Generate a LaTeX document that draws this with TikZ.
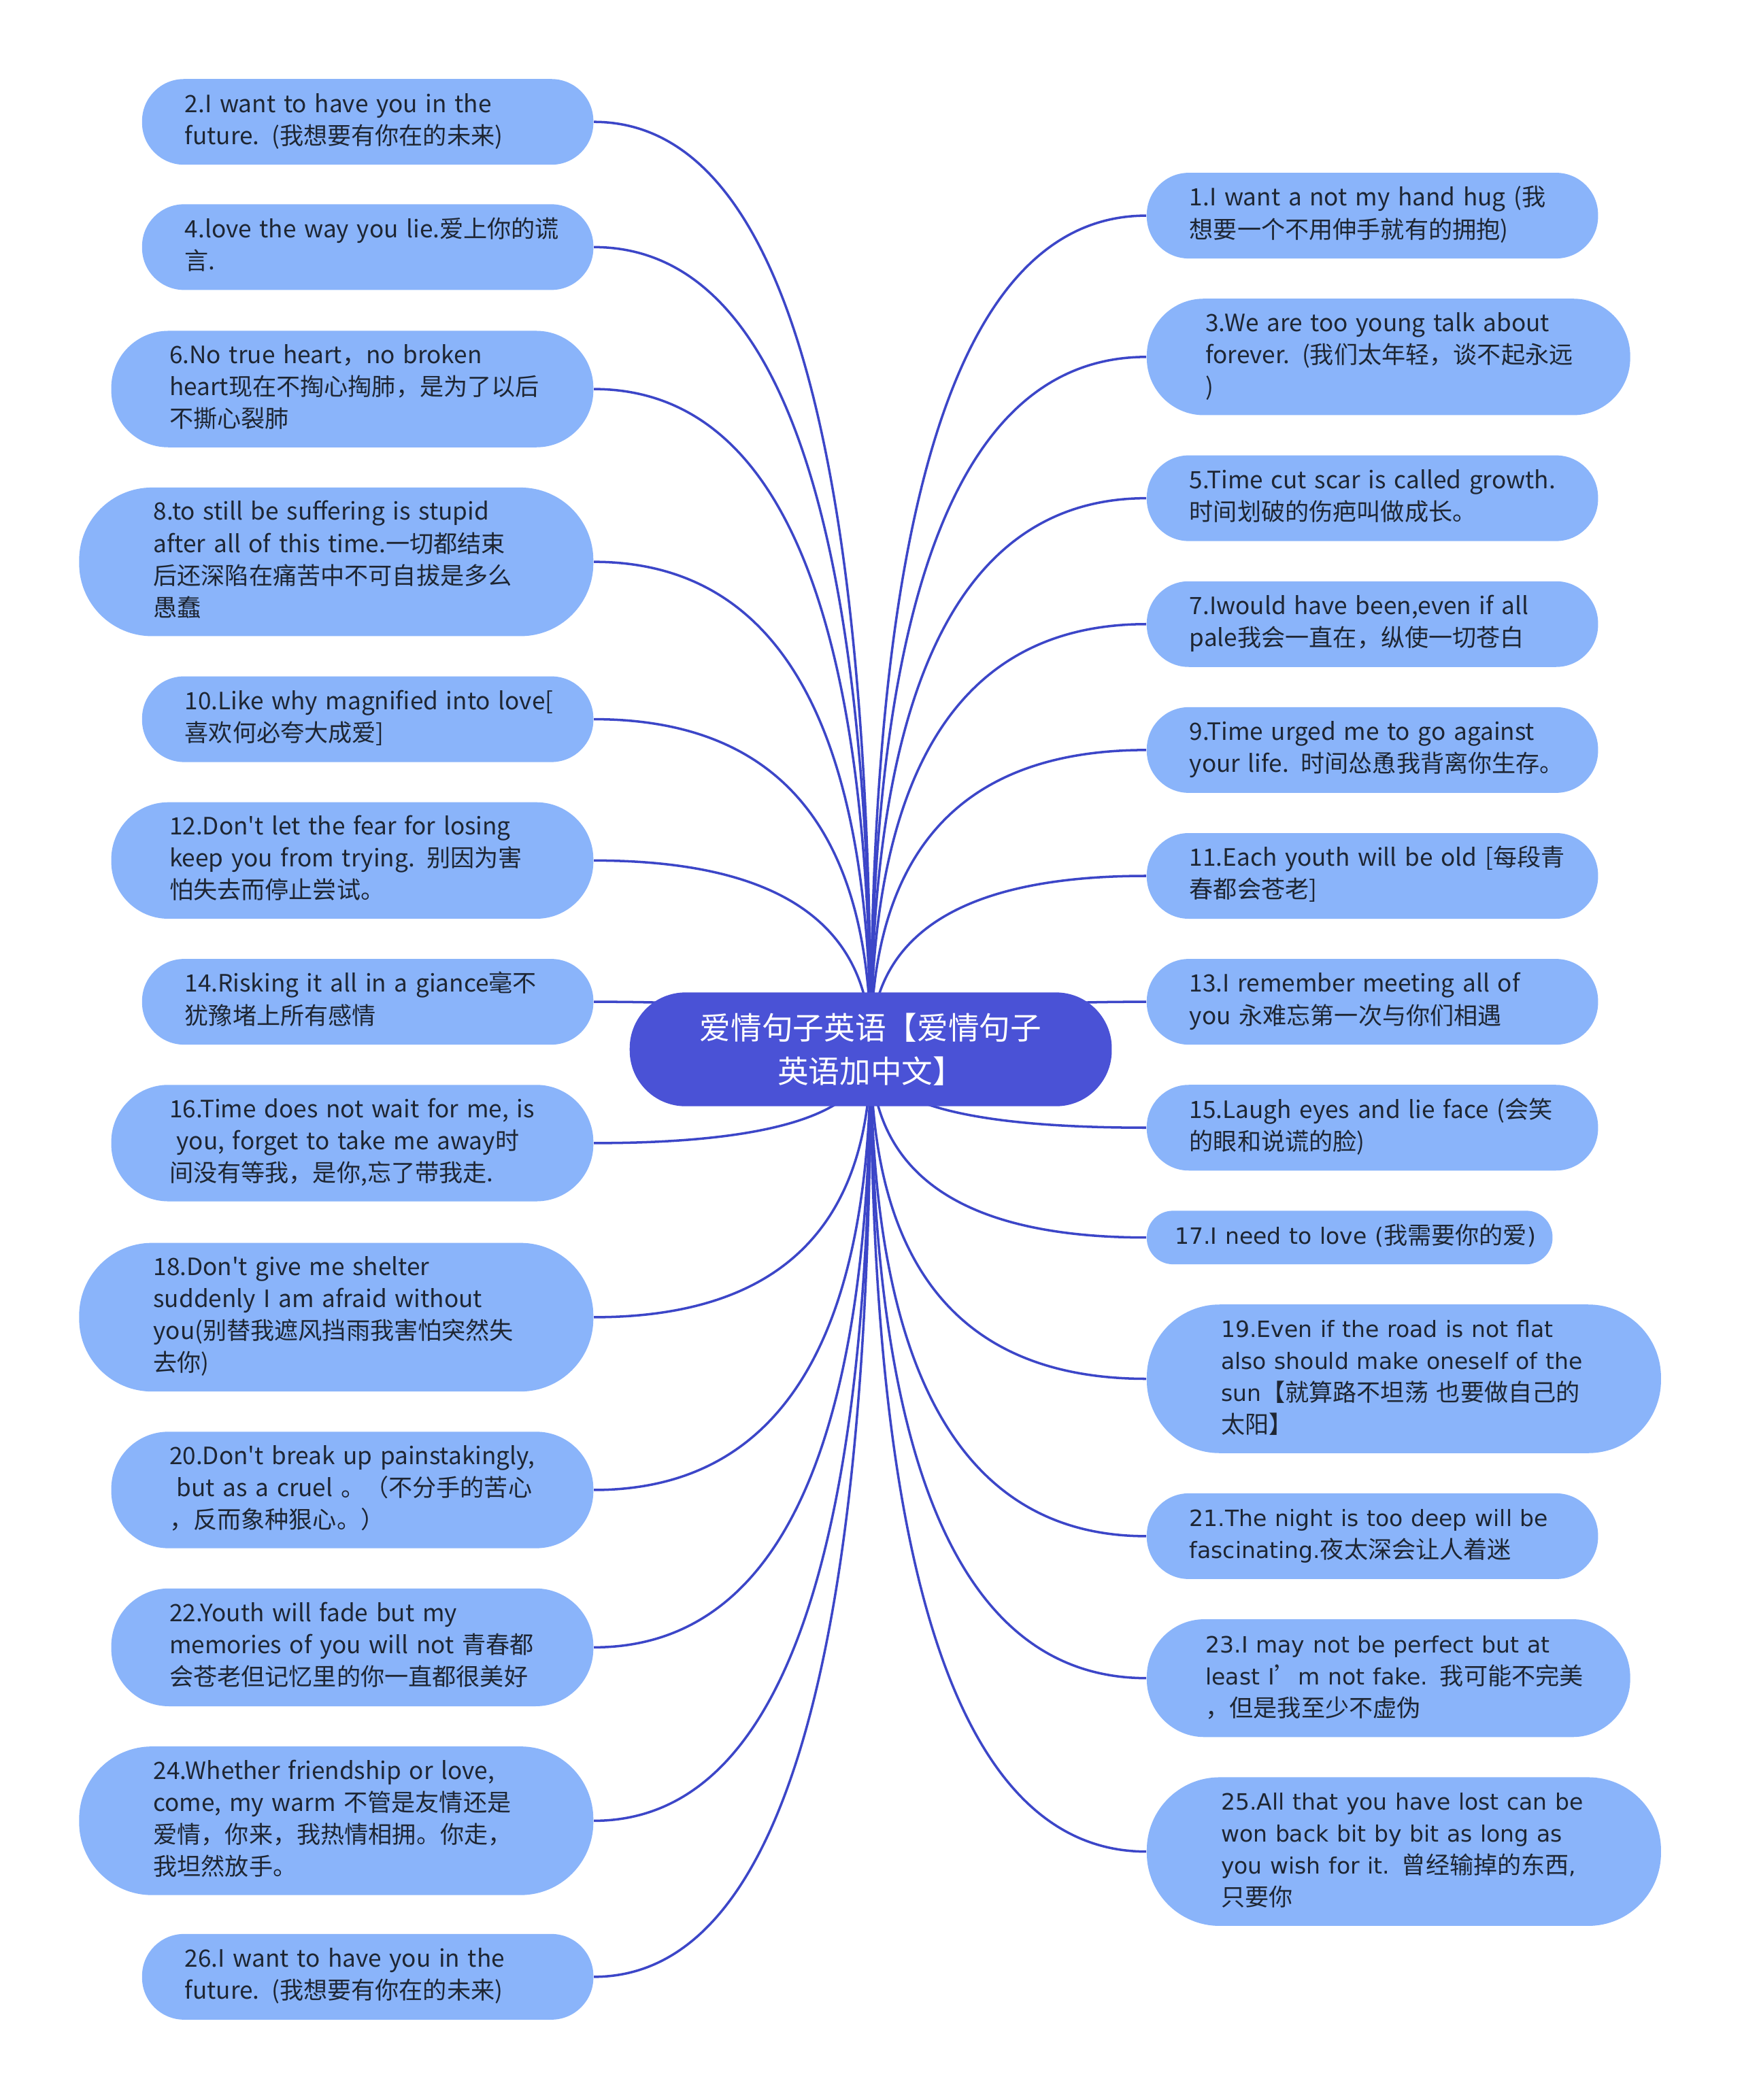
\documentclass[tikz,border=0pt]{standalone}
\usepackage{fontspec}
\newfontfamily\cjkfont{Noto Sans CJK SC}
\newfontfamily\widefont{DejaVu Sans}
\newcommand\widetxt[1]{{\widefont\fontsize{9.4}{13.4}\selectfont #1}}
\newcommand\rows[1]{\begin{tabular}{@{}l@{}}#1\end{tabular}}
\usetikzlibrary{calc}
\usetikzlibrary{backgrounds}

\definecolor{leaf}{HTML}{8AB4FA}
\definecolor{root}{HTML}{4A52D6}
\definecolor{wire}{HTML}{3C46C8}
\definecolor{ink}{HTML}{1E2633}

\begin{document}
\begin{tikzpicture}[x=0.0196923cm, y=-0.0196923cm,
		bubble/.style 2 args={fill=leaf, text=ink, align=left, inner sep=2pt,
			text width=153pt,
			minimum width=#1*0.5603pt, minimum height=#2*0.5603pt,
			rounded corners=#2*0.2745pt, font=\cjkfont\fontsize{10}{13.4}\selectfont},
		link/.style={draw=wire, line width=1pt}]
		\useasboundingbox (0,0) rectangle (1300,1568);
		%% The root
		\node[fill=root, text=white, align=center, minimum width=360*0.5603pt,
			minimum height=85*0.5603pt, rounded corners=85*0.2745pt,
			font=\cjkfont\fontsize{13}{18}\selectfont] (ctr) at (650,783.5)
			{爱情句子英语【爱情句子\\英语加中文】};
		%% Left side
		\node[bubble={337}{64}] (s2) at (274.5,91)
			{\rows{2.I want to have you in the\\future. (我想要有你在的未来)}};
		\node[bubble={337}{64}] (s4) at (274.5,184.5)
			{\rows{4.love the way you lie.爱上你的谎\\言.}};
		\node[bubble={360}{87}] (s6) at (263,290.5)
			{\rows{6.No true heart，no broken\\heart现在不掏心掏肺，是为了以后\\不撕心裂肺}};
		\node[bubble={384}{111}] (s8) at (251,419.5)
			{\rows{8.to still be suffering is stupid\\after all of this time.一切都结束\\后还深陷在痛苦中不可自拔是多么\\愚蠢}};
		\node[bubble={337}{64}] (s10) at (274.5,537)
			{\rows{10.Like why magnified into love[\\喜欢何必夸大成爱]}};
		\node[bubble={360}{87}] (s12) at (263,642.5)
			{\rows{12.Don't let the fear for losing\\keep you from trying. 别因为害\\怕失去而停止尝试。}};
		\node[bubble={337}{64}] (s14) at (274.5,748)
			{\rows{14.Risking it all in a giance毫不\\犹豫堵上所有感情}};
		\node[bubble={360}{87}] (s16) at (263,853.5)
			{\rows{16.Time does not wait for me, is\\\hspace{3pt}you, forget to take me away时\\间没有等我，是你,忘了带我走.}};
		\node[bubble={384}{111}] (s18) at (251,983.5)
			{\rows{18.Don't give me shelter\\suddenly I am afraid without\\you(别替我遮风挡雨我害怕突然失\\去你)}};
		\node[bubble={360}{87}] (s20) at (263,1112.5)
			{\rows{20.Don't break up painstakingly,\\\hspace{3pt}but as a cruel 。（不分手的苦心\\，反而象种狠心。）}};
		\node[bubble={360}{88}] (s22) at (263,1230)
			{\rows{22.Youth will fade but my\\memories of you will not 青春都\\会苍老但记忆里的你一直都很美好}};
		\node[bubble={384}{111}] (s24) at (251,1359.5)
			{\rows{24.Whether friendship or love,\\come, my warm 不管是友情还是\\爱情，你来，我热情相拥。你走，\\我坦然放手。}};
		\node[bubble={337}{64}] (s26) at (274.5,1476)
			{\rows{26.I want to have you in the\\future. (我想要有你在的未来)}};
		%% Right side
		\node[bubble={337}{64}] (s1) at (1024.5,161)
			{\rows{1.I want a not my hand hug (我\\想要一个不用伸手就有的拥抱)}};
		\node[bubble={361}{87}] (s3) at (1036.5,266.5)
			{\rows{3.We are too young talk about\\forever. (我们太年轻，谈不起永远\\)}};
		\node[bubble={337}{64}] (s5) at (1024.5,372)
			{\rows{5.Time cut scar is called growth.\\时间划破的伤疤叫做成长。}};
		\node[bubble={337}{64}] (s7) at (1024.5,466)
			{\rows{7.Iwould have been,even if all\\pale我会一直在，纵使一切苍白}};
		\node[bubble={337}{64}] (s9) at (1024.5,560)
			{\rows{9.Time urged me to go against\\your life. 时间怂恿我背离你生存。}};
		\node[bubble={337}{64}] (s11) at (1024.5,654)
			{\rows{11.Each youth will be old [每段青\\春都会苍老]}};
		\node[bubble={337}{64}] (s13) at (1024.5,748)
			{\rows{13.I remember meeting all of\\you 永难忘第一次与你们相遇}};
		\node[bubble={337}{64}] (s15) at (1024.5,842)
			{\rows{15.Laugh eyes and lie face (会笑\\的眼和说谎的脸)}};
		\node[bubble={303}{40}, text width=261*0.5603pt] (s17) at (1007.5,924)
			{\rows{\widetxt{17.I need to love (}我需要你的爱\widetxt{)}}};
		\node[bubble={384}{111}] (s19) at (1048,1029.5)
			{\rows{\widetxt{19.Even if the road is not flat}\\\widetxt{also should make oneself of the}\\\widetxt{sun}【就算路不坦荡 也要做自己的\\太阳】}};
		\node[bubble={337}{64}] (s21) at (1024.5,1147)
			{\rows{\widetxt{21.The night is too deep will be}\\\widetxt{fascinating.}夜太深会让人着迷}};
		\node[bubble={361}{88}] (s23) at (1036.5,1253)
			{\rows{\widetxt{23.I may not be perfect but at}\\\widetxt{least I}’\widetxt{m not fake.} 我可能不完美\\，但是我至少不虚伪}};
		\node[bubble={384}{111}] (s25) at (1048,1382.5)
			{\rows{\widetxt{25.All that you have lost can be}\\\widetxt{won back bit by bit as long as}\\\widetxt{you wish for it.} 曾经输掉的东西\widetxt{,}\\只要你}};
		%% The curves
		\begin{pgfonlayer}{background}
			\fill[white] (0,0) rectangle (1300,1568);
			\foreach \n in {s2,s4,s6,s8,s10,s12,s14,s16,s18,s20,s22,s24,s26}
				\draw[link] (ctr.center) .. controls ($(ctr.center)!2/3!(ctr.center |- \n.east)$)
					and ($(\n.east)!2/3!(ctr.center |- \n.east)$) .. (\n.east);
			\foreach \n in {s1,s3,s5,s7,s9,s11,s13,s15,s17,s19,s21,s23,s25}
				\draw[link] (ctr.center) .. controls ($(ctr.center)!2/3!(ctr.center |- \n.west)$)
					and ($(\n.west)!2/3!(ctr.center |- \n.west)$) .. (\n.west);
		\end{pgfonlayer}
	\end{tikzpicture}
\end{document}
